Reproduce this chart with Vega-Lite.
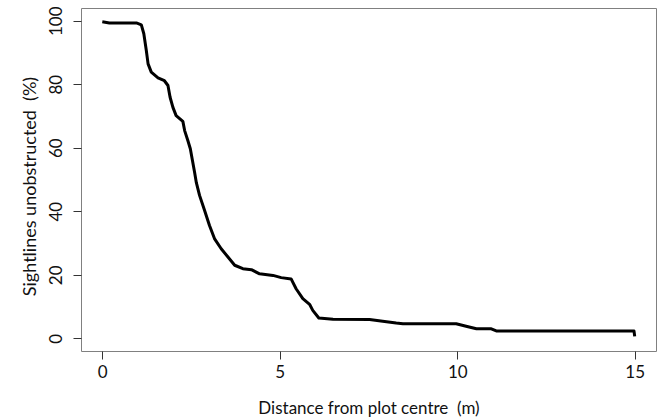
{
  "$schema": "https://vega.github.io/schema/vega-lite/v6.json",
  "width": 575,
  "height": 343,
  "autosize": {"type": "none"},
  "padding": {"left": 81, "top": 8, "right": 4, "bottom": 67},
  "background": "white",
  "config": {
    "view": {"stroke": "#808080", "strokeWidth": 1},
    "font": "Lato",
    "axis": {
      "domain": false,
      "grid": false,
      "tickColor": "#333333",
      "tickSize": 8,
      "tickWidth": 1,
      "labelFont": "Lato",
      "labelFontSize": 17,
      "labelColor": "#111111",
      "titleFont": "Lato",
      "titleFontSize": 17,
      "titleFontWeight": "normal",
      "titleColor": "#111111"
    }
  },
  "data": {
    "values": [
      {"d": 0.0, "p": 99.7},
      {"d": 0.2, "p": 99.3},
      {"d": 0.96, "p": 99.3},
      {"d": 1.1, "p": 98.7},
      {"d": 1.17, "p": 95.9},
      {"d": 1.24, "p": 90.6},
      {"d": 1.29, "p": 86.4},
      {"d": 1.38, "p": 83.8},
      {"d": 1.57, "p": 82.0},
      {"d": 1.75, "p": 81.1},
      {"d": 1.85, "p": 79.6},
      {"d": 1.91, "p": 75.9},
      {"d": 1.99, "p": 72.7},
      {"d": 2.08, "p": 70.1},
      {"d": 2.27, "p": 68.3},
      {"d": 2.32, "p": 65.4},
      {"d": 2.41, "p": 62.3},
      {"d": 2.48, "p": 59.7},
      {"d": 2.54, "p": 56.0},
      {"d": 2.6, "p": 52.3},
      {"d": 2.65, "p": 49.0},
      {"d": 2.74, "p": 45.0},
      {"d": 2.88, "p": 40.3},
      {"d": 3.02, "p": 35.5},
      {"d": 3.16, "p": 31.4},
      {"d": 3.35, "p": 28.2},
      {"d": 3.54, "p": 25.6},
      {"d": 3.73, "p": 23.0},
      {"d": 3.96, "p": 21.9},
      {"d": 4.2, "p": 21.6},
      {"d": 4.43, "p": 20.3},
      {"d": 4.81, "p": 19.8},
      {"d": 5.04, "p": 19.1},
      {"d": 5.32, "p": 18.7},
      {"d": 5.46, "p": 15.6},
      {"d": 5.65, "p": 12.5},
      {"d": 5.84, "p": 10.7},
      {"d": 5.93, "p": 8.8},
      {"d": 6.1, "p": 6.4},
      {"d": 6.5, "p": 6.0},
      {"d": 7.53, "p": 5.9},
      {"d": 7.9, "p": 5.4},
      {"d": 8.28, "p": 4.8},
      {"d": 8.47, "p": 4.6},
      {"d": 9.97, "p": 4.6},
      {"d": 10.25, "p": 3.8},
      {"d": 10.54, "p": 3.0},
      {"d": 10.96, "p": 3.0},
      {"d": 11.1, "p": 2.3},
      {"d": 14.98, "p": 2.3},
      {"d": 15.0, "p": 0.6}
    ]
  },
  "mark": {"type": "line", "color": "black", "strokeWidth": 3, "strokeJoin": "round", "strokeCap": "butt"},
  "encoding": {
    "x": {
      "field": "d",
      "type": "quantitative",
      "scale": {"domain": [-0.6, 15.6], "nice": false, "zero": false},
      "axis": {
        "values": [0, 5, 10, 15],
        "title": "Distance from plot centre\u00a0 (m)",
        "labelPadding": 5,
        "titleY": 57,
        "titleBaseline": "middle"
      }
    },
    "y": {
      "field": "p",
      "type": "quantitative",
      "scale": {"domain": [-4, 104], "nice": false, "zero": false},
      "axis": {
        "values": [0, 20, 40, 60, 80, 100],
        "title": "Sightlines unobstructed\u00a0 (%)",
        "titleFontSize": 18,
        "labelAngle": -90,
        "labelAlign": "center",
        "labelBaseline": "bottom",
        "labelPadding": 8,
        "titleX": -51,
        "titleY": 178,
        "titleAngle": -90,
        "titleBaseline": "middle",
        "titleAlign": "center"
      }
    }
  }
}
